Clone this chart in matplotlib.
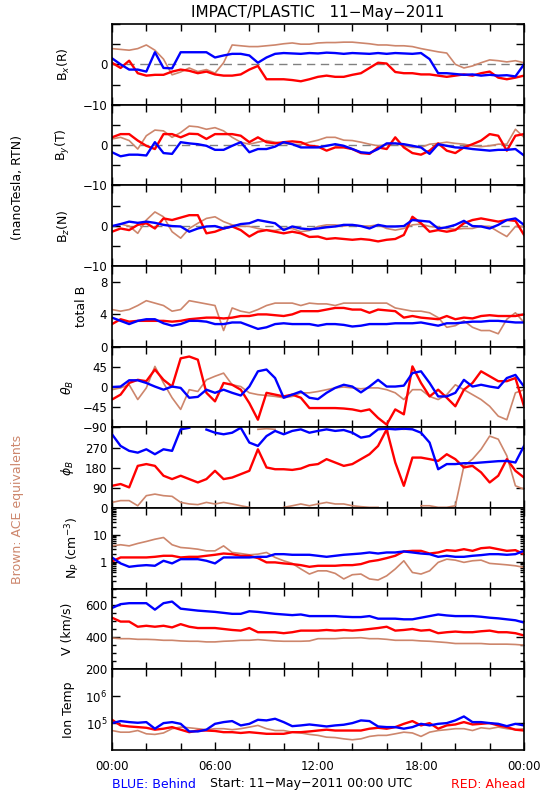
import numpy as np
import matplotlib
matplotlib.use("Agg")
import matplotlib.pyplot as plt
from matplotlib.ticker import FixedLocator, LogLocator, NullFormatter, MultipleLocator

# half-hour samples over the day (hours since 00:00 UT)
hours = np.arange(0, 24.5, 0.5)

# ---- magnetic field, RTN (nT) ----
bx_blue = [1.5, 0, -1.3, -1.3, -1.8, 3.0, -0.9, -1.0, 3.0, 3.0, 3.0, 3.0, 1.7, 2.2, 2.6, 2.6,
           2.2, 0.4, 1.7, 2.6, 2.8, 2.7, 2.6, 2.8, 2.7, 2.9, 2.8, 2.6, 2.8, 2.7, 2.6, 2.8,
           2.6, 2.8, 2.7, 2.6, 2.8, 1.3, -2.2, -2.2, -2.4, -2.6, -2.5, -2.8, -2.6, -2.8, -2.7, -3.0, 0]
bx_red = [0.4, -0.9, 0.9, -2.2, -2.8, -2.6, -2.6, -1.8, -1.3, -1.6, -2.2, -1.8, -2.5, -2.8, -2.8, -2.5,
          -1.3, -0.4, -3.7, -3.7, -3.7, -3.9, -4.2, -3.7, -3.1, -2.8, -3.1, -3.1, -2.6, -2.2, -0.9, 0.4,
          0.2, -1.9, -2.2, -2.2, -2.5, -2.5, -2.8, -3.1, -2.8, -2.5, -2.8, -2.2, -1.8, -3.3, -3.7, -3.3, -2.8]
bx_ace = [3.9, 3.7, 3.5, 3.9, 4.8, 3.5, 1.3, -2.6, -1.9, -0.9, -1.8, -1.3, -2.2, 0.4, 4.8, 4.6,
          4.4, 4.4, 4.6, 4.8, 5.1, 5.3, 5.0, 5.0, 5.3, 5.4, 5.4, 5.5, 5.5, 5.3, 5.1, 4.8,
          4.8, 4.6, 4.6, 4.4, 3.9, 3.5, 3.1, 2.8, 0, -0.9, -0.4, 0.4, 1.1, 0.9, 0.6, 0.9, 0.4]

by_blue = [-1.8, -2.8, -2.4, -2.4, -2.6, 0.7, -2.0, -2.2, 0.7, 0.4, 0.2, -0.2, -1.2, -1.2, -0.2, 0.7,
           -1.8, -1.0, -1.0, -0.4, 0.7, 0.2, -0.6, -0.6, -0.6, -0.2, 0.2, -0.2, -1.0, -1.8, -2.0, -1.0,
           0.4, 0.4, 0.2, -0.2, -0.6, -2.2, 0.2, -0.2, -0.6, -0.7, -1.0, -1.2, -1.4, -1.2, -1.2, -1.0, -2.6]
by_red = [1.9, 2.7, 2.7, 1.1, -0.2, -1.0, 2.7, 2.7, 1.9, 2.8, 2.7, 1.5, 2.7, 2.7, 2.7, 2.3,
          0.7, 1.9, 0.7, 0.4, 0.7, 0.9, 0.7, -0.2, -0.4, -1.4, -0.6, -0.6, -1.0, -2.0, -2.2, -0.6,
          -1.0, 1.9, -0.6, -2.0, -2.4, -1.4, 0.4, -1.4, -2.0, -0.6, 0.2, 1.1, 2.7, 2.3, -1.4, 2.3, 2.7]
by_ace = [1.5, 1.9, 1.1, -1.0, 2.3, 3.7, 3.5, 1.9, 3.1, 4.7, 4.5, 3.9, 4.3, 3.5, 1.9, 0.7,
          0.2, 0.7, 1.1, 0.7, 0.4, 0.2, 0.1, 0.7, 1.2, 1.9, 1.9, 1.2, 1.1, 0.7, 0.2, -0.2,
          0.0, 0.4, -0.2, -0.6, -0.6, 0.2, 0.4, 0.7, 0.4, 0.2, -0.2, -0.4, -0.2, 0.2, 0.2, 3.9, 1.9]

bz_blue = [-0.1, 0.4, 1.0, 0.7, 1.0, 0.7, 0.2, -0.1, -0.2, -1.5, -0.7, -0.2, -0.1, -0.7, -0.2, 0.4,
           0.6, 1.4, 1.0, 0.6, -1.1, -0.2, -0.7, -0.9, -0.7, -0.4, -0.2, 0.2, 0.2, -0.1, -0.7, 0.2,
           -0.2, -0.2, -0.1, 1.4, 1.2, 1.0, -0.7, -0.4, 0.2, 1.2, -0.1, -0.2, -0.7, 0.2, 1.4, 1.8, 0.2]
bz_red = [-1.5, -0.7, -1.1, 0.2, 0.6, -0.7, 1.8, 1.4, 2.0, 2.6, 2.6, -1.9, -1.5, -0.7, -0.2, -1.1,
          -2.7, -1.5, -1.1, -1.5, -1.9, -1.5, -1.9, -2.8, -2.7, -3.3, -3.1, -3.3, -3.5, -3.3, -3.5, -3.9,
          -3.5, -3.3, -2.3, 2.2, 0.6, -1.5, -1.1, -1.5, -1.1, 0.6, 1.4, 1.8, 1.4, 1.0, 1.4, 1.2, -2.3]
bz_ace = [-0.2, 0.4, -0.1, -1.9, 1.4, 3.4, 2.2, -1.5, -3.1, -0.7, 0.6, 1.8, 2.2, 1.0, 0.2, -0.1,
          -0.2, -0.7, -1.1, -1.2, -0.7, -0.7, -1.5, -1.2, -0.2, 0.2, 0.2, -0.1, 0.2, -0.1, -0.1, 0.2,
          -0.7, -1.1, -0.7, 0.2, 0.4, -0.2, -0.4, -0.7, -0.9, -0.7, -0.7, -0.1, -0.2, -1.5, -2.7, -0.2, -0.2]

bt_blue = [3.6, 3.2, 2.8, 3.2, 3.4, 3.4, 2.9, 2.6, 2.8, 3.2, 3.2, 3.1, 2.8, 2.8, 3.0, 3.0,
           2.6, 2.2, 2.4, 2.8, 2.9, 2.8, 2.8, 2.8, 2.6, 2.8, 2.8, 2.7, 2.5, 2.6, 2.8, 2.8,
           2.8, 2.9, 2.9, 2.9, 3.0, 2.8, 2.6, 2.9, 2.9, 3.0, 3.1, 3.1, 3.2, 3.2, 3.1, 3.0, 3.0]
bt_red = [2.8, 3.4, 3.1, 3.2, 3.2, 3.2, 3.2, 3.1, 3.2, 3.4, 3.5, 3.6, 3.6, 3.5, 3.6, 3.8,
          3.8, 4.0, 4.0, 3.9, 3.8, 4.0, 4.4, 4.4, 4.4, 4.6, 4.8, 4.8, 4.6, 4.6, 4.2, 4.6,
          4.5, 4.4, 3.6, 3.8, 3.6, 3.5, 3.4, 3.8, 3.4, 3.6, 3.5, 3.8, 3.9, 3.8, 3.8, 3.8, 4.0]
bt_ace = [4.6, 4.4, 4.6, 5.1, 5.7, 5.4, 5.1, 4.4, 4.6, 5.7, 5.5, 5.3, 5.1, 2.0, 4.8, 4.4,
          4.2, 4.6, 5.1, 5.4, 5.4, 5.4, 5.1, 5.4, 5.3, 5.3, 5.1, 5.4, 5.4, 5.4, 5.4, 5.4,
          5.4, 4.8, 4.6, 4.4, 4.4, 4.2, 3.6, 2.4, 2.6, 3.2, 2.4, 2.0, 2.0, 1.6, 3.4, 4.2, 3.0]

# ---- field direction (deg) ----
th_blue = [0, 1, 15, 15, 9, 1, -6, 1, -2, -24, -22, -6, -13, -6, -13, -19,
           1, 35, 39, 20, -24, -17, -10, -24, -27, -13, -2, 5, 1, -12, 1, 16,
           1, 1, 3, 31, 35, 9, -21, -21, -13, 16, 1, 5, 1, -2, 20, 27, 1]
th_red = [-28, -17, 9, 16, 13, 39, 16, 1, 64, 68, 61, -13, -32, 9, 5, -6,
          -36, -73, -13, -17, -21, -17, -24, -47, -47, -47, -47, -48, -50, -54, -50, -69,
          -84, -50, -61, 46, 9, -21, -6, -24, -43, -6, 9, 35, 24, 13, 13, 20, -43]
th_ace = [-6, -2, 5, -28, -2, 46, 9, -24, -50, -6, -10, 16, 24, 31, 5, 1,
          -13, -17, -19, -21, -24, -21, -13, -13, -10, -6, -2, 0, -2, -4, -2, -2,
          -6, -13, -28, -6, -6, -21, -28, -17, 5, -6, -17, -28, -43, -65, -73, -13, -6]

ph_blue = [329, 277, 255, 247, 262, 240, 262, 255, 351, 358, 5, 350, 336, 329, 336, 358,
           292, 277, 321, 344, 329, 344, 351, 336, 344, 351, 344, 348, 336, 314, 321, 351,
           354, 351, 354, 351, 336, 292, 173, 196, 196, 200, 200, 203, 206, 209, 210, 203, 277]
ph_red = [99, 107, 92, 188, 196, 188, 144, 129, 144, 129, 114, 129, 166, 129, 136, 151,
          166, 262, 181, 173, 173, 170, 176, 191, 196, 218, 203, 188, 196, 218, 240, 277,
          351, 203, 99, 225, 225, 218, 210, 240, 218, 181, 188, 159, 114, 144, 218, 166, 136]
ph_ace = [25, 33, 33, 10, 55, 62, 55, 52, 25, 18, 15, 25, 18, 25, 18, 10,
          3, 351, 354, 351, 3, 10, 18, 10, 18, 25, 18, 18, 10, 6, 3, 3,
          351, 354, 351, 354, 10, 10, 3, 3, 10, 188, 218, 262, 321, 307, 233, 99, 84]

# ---- plasma ----
np_blue = [1.45, 0.87, 0.65, 0.71, 0.75, 0.71, 1.09, 0.87, 1.25, 1.25, 1.25, 1.09, 0.87, 1.45, 1.45, 1.45,
           1.45, 1.53, 1.53, 1.92, 1.92, 1.82, 1.82, 1.82, 1.67, 1.53, 1.67, 1.82, 1.92, 2.03, 2.22, 2.03,
           2.22, 2.22, 2.42, 2.22, 2.03, 1.92, 1.53, 1.67, 1.53, 1.53, 1.67, 1.77, 1.92, 1.92, 1.82, 1.92, 2.55]
np_red = [1.03, 1.45, 1.45, 1.45, 1.45, 1.53, 1.67, 1.67, 1.45, 1.53, 1.53, 1.67, 1.82, 2.03, 1.92, 1.67,
          1.67, 1.37, 0.95, 0.95, 0.87, 0.82, 0.75, 0.65, 0.71, 0.71, 0.71, 0.75, 0.75, 0.82, 1.03, 1.15,
          1.37, 1.67, 2.42, 2.55, 2.55, 2.03, 2.22, 2.7, 2.55, 2.94, 2.55, 3.2, 3.4, 2.94, 2.55, 2.7, 1.92]
np_ace = [3.9, 4.3, 3.9, 4.8, 5.7, 6.9, 8.0, 4.3, 3.4, 3.2, 2.94, 2.55, 2.55, 3.9, 2.22, 2.03,
          1.82, 1.92, 2.22, 1.45, 1.09, 0.87, 0.54, 0.35, 0.46, 0.46, 0.37, 0.23, 0.33, 0.35, 0.23, 0.21,
          0.30, 0.54, 1.09, 0.40, 0.35, 0.46, 0.95, 1.25, 1.15, 0.95, 1.09, 1.15, 0.87, 0.82, 0.77, 0.71, 0.62]

v_blue = [580, 604, 610, 610, 610, 570, 610, 620, 576, 570, 564, 560, 556, 550, 544, 544,
          560, 556, 550, 544, 540, 536, 540, 530, 530, 530, 530, 526, 524, 524, 530, 514,
          514, 514, 510, 510, 520, 530, 540, 534, 530, 530, 530, 526, 520, 516, 510, 504, 490]
v_red = [520, 496, 496, 464, 470, 464, 470, 460, 480, 464, 456, 456, 456, 450, 444, 440,
         456, 430, 430, 430, 424, 430, 440, 440, 440, 444, 440, 444, 440, 444, 450, 456,
         464, 440, 444, 450, 440, 444, 424, 430, 434, 430, 430, 436, 440, 430, 430, 424, 410]
v_ace = [394, 390, 390, 386, 386, 384, 380, 380, 376, 374, 374, 370, 370, 374, 376, 380,
         380, 384, 380, 376, 374, 374, 374, 376, 390, 390, 390, 394, 394, 396, 390, 390,
         386, 380, 380, 380, 376, 374, 370, 366, 360, 360, 360, 360, 356, 356, 356, 354, 350]

t_blue = [1.0e5, 1.19e5, 1.09e5, 1.03e5, 1.09e5, 6.2e4, 1.0e5, 1.09e5, 9.4e4, 4.9e4, 4.9e4, 5.7e4, 9.4e4, 1.09e5, 1.19e5, 8.2e4,
          9.4e4, 1.33e5, 1.26e5, 1.45e5, 1.09e5, 7.7e4, 8.2e4, 8.9e4, 8.2e4, 7.5e4, 8.2e4, 8.7e4, 1.0e5, 1.26e5, 1.19e5, 7.5e4,
          7.1e4, 7.1e4, 6.2e4, 7.1e4, 9.4e4, 8.2e4, 9.4e4, 1.0e5, 1.26e5, 1.77e5, 1.09e5, 1.09e5, 1.0e5, 9.4e4, 7.7e4, 9.4e4, 8.2e4]
t_red = [1.33e5, 8.2e4, 7.5e4, 7.1e4, 6.7e4, 5.7e4, 6.2e4, 7.1e4, 5.7e4, 4.6e4, 5.3e4, 5.3e4, 5.1e4, 4.6e4, 4.6e4, 4.3e4,
         4.6e4, 4.3e4, 4.0e4, 4.0e4, 4.0e4, 4.6e4, 4.6e4, 4.9e4, 5.3e4, 5.7e4, 5.3e4, 5.3e4, 5.3e4, 5.3e4, 6.2e4, 6.7e4,
         6.2e4, 7.1e4, 9.4e4, 1.19e5, 8.2e4, 1.0e5, 6.2e4, 8.2e4, 8.9e4, 1.09e5, 8.9e4, 9.4e4, 1.0e5, 8.2e4, 7.1e4, 5.7e4, 5.3e4]
t_ace = [5.3e4, 4.6e4, 4.6e4, 5.3e4, 4.0e4, 3.8e4, 4.3e4, 6.2e4, 7.1e4, 6.7e4, 6.2e4, 5.7e4, 6.2e4, 6.2e4, 5.7e4, 6.2e4,
         7.1e4, 8.2e4, 6.2e4, 5.3e4, 5.3e4, 4.6e4, 4.3e4, 3.8e4, 3.5e4, 3.0e4, 2.9e4, 2.6e4, 2.4e4, 2.6e4, 3.2e4, 3.5e4,
         3.5e4, 4.0e4, 4.6e4, 4.3e4, 3.2e4, 4.6e4, 5.3e4, 5.7e4, 6.2e4, 6.2e4, 5.3e4, 6.7e4, 6.2e4, 7.1e4, 6.2e4, 5.7e4, 6.2e4]

BLUE = '#0000ff'
RED = '#ff0000'
BROWN = '#cd866c'


def wrap_gaps(y):
    # break the line where phi wraps through 0/360
    y = np.asarray(y, dtype=float)
    x = hours.astype(float)
    xs, ys = [x[0]], [y[0]]
    for i in range(1, len(y)):
        if abs(y[i] - y[i - 1]) > 180:
            xs.append(np.nan)
            ys.append(np.nan)
        xs.append(x[i])
        ys.append(y[i])
    return xs, ys


panels = [
    dict(lab=r'B$_x$(R)', data=(bx_ace, bx_red, bx_blue), lim=(-10, 10),
         ticks=[-10, -5, 0, 5, 10], tl=['\u221210', '', '0', '', ''], zero=True, lx=72),
    dict(lab=r'B$_y$(T)', data=(by_ace, by_red, by_blue), lim=(-10, 10),
         ticks=[-10, -5, 0, 5, 10], tl=['\u221210', '', '0', '', ''], zero=True, lx=72),
    dict(lab=r'B$_z$(N)', data=(bz_ace, bz_red, bz_blue), lim=(-10, 10),
         ticks=[-10, -5, 0, 5, 10], tl=['\u221210', '', '0', '', ''], zero=True, lx=72),
    dict(lab='total B', data=(bt_ace, bt_red, bt_blue), lim=(0, 10),
         ticks=[0, 4, 8], tl=['0', '4', '8'], lx=88),
    dict(lab=r'$\theta_B$', data=(th_ace, th_red, th_blue), lim=(-90, 90),
         ticks=[-90, -45, 0, 45, 90], tl=['\u221290', '\u221245', '0', '45', ''], lx=76),
    dict(lab=r'$\phi_B$', data=(ph_ace, ph_red, ph_blue), lim=(0, 360),
         ticks=[0, 90, 180, 270, 360], tl=['0', '90', '180', '270', ''], wrap=True, lx=76),
    dict(lab=r'N$_P$ (cm$^{-3}$)', data=(np_ace, np_red, np_blue), lim=(0.1, 100),
         ticks=[1, 10], tl=['1', '10'], log=True, lx=82),
    dict(lab='V (km/s)', data=(v_ace, v_red, v_blue), lim=(200, 700),
         ticks=[200, 400, 600], tl=['200', '400', '600'], minor=50, lx=73),
    dict(lab='Ion Temp', data=(t_ace, t_red, t_blue), lim=(1e4, 1e7),
         ticks=[1e5, 1e6], tl=[r'10$^5$', r'10$^6$'], log=True, lx=75),
]

W, H = 550, 800
fig = plt.figure(figsize=(W / 100, H / 100), dpi=100)
plt.rcParams['font.family'] = ['DejaVu Sans']

left, right = 112, 524
top, bottom = 24, 750
ph = (bottom - top) / len(panels)

for i, p in enumerate(panels):
    y0 = top + i * ph
    ax = fig.add_axes([left / W, 1 - (y0 + ph) / H, (right - left) / W, ph / H])
    if p.get('log'):
        ax.set_yscale('log')
    if p.get('zero'):
        ax.axhline(0, color='#808080', lw=1.0, ls=(0, (6, 4)), zorder=1)
    for d, c, lw in zip(p['data'], (BROWN, RED, BLUE), (1.2, 1.7, 1.7)):
        if p.get('wrap'):
            xs, ys = wrap_gaps(d)
        else:
            xs, ys = hours, d
        ax.plot(xs, ys, color=c, lw=lw, zorder=2)
    ax.set_xlim(0, 24)
    ax.set_ylim(*p['lim'])
    ax.yaxis.set_major_locator(FixedLocator(p['ticks']))
    ax.set_yticklabels(p['tl'])
    if p.get('log'):
        ax.yaxis.set_minor_locator(LogLocator(base=10, subs=np.arange(2, 10)))
        ax.yaxis.set_minor_formatter(NullFormatter())
    elif p.get('minor'):
        ax.yaxis.set_minor_locator(MultipleLocator(p['minor']))
    ax.set_xticks([0, 6, 12, 18, 24])
    ax.xaxis.set_minor_locator(MultipleLocator(2))
    ax.tick_params(which='both', direction='in', top=True, right=True, labelsize=8.5, width=1)
    ax.tick_params(which='major', length=6)
    ax.tick_params(which='minor', length=3)
    ax.tick_params(axis='x', which='minor', length=5)
    if i == len(panels) - 1:
        ax.set_xticklabels(['00:00', '06:00', '12:00', '18:00', '00:00'])
        ax.tick_params(axis='x', pad=7)
    else:
        ax.set_xticklabels([])
    for s in ax.spines.values():
        s.set_linewidth(1.2)
    ax.set_ylabel(p['lab'], fontsize=9)
    ax.yaxis.set_label_coords((p['lx'] - left) / (right - left), 0.5)

fig.text(318 / W, 1 - 12 / H, 'IMPACT/PLASTIC   11\u2212May\u22122011', ha='center', va='center', fontsize=11)
fig.text(18 / W, 1 - 188 / H, '(nanoTesla, RTN)', rotation=90, ha='center', va='center', fontsize=9)
fig.text(18 / W, 1 - 509 / H, 'Brown: ACE equivalents', rotation=90, ha='center', va='center',
         fontsize=9, color=BROWN)
fig.text(112 / W, 1 - 784 / H, 'BLUE: Behind', ha='left', va='center', fontsize=9, color=BLUE)
fig.text(210 / W, 1 - 783 / H, 'Start: 11\u2212May\u22122011 00:00 UTC', ha='left', va='center', fontsize=9)
fig.text(525 / W, 1 - 784 / H, 'RED: Ahead', ha='right', va='center', fontsize=9, color=RED)

fig.savefig('out.png', dpi=100)
